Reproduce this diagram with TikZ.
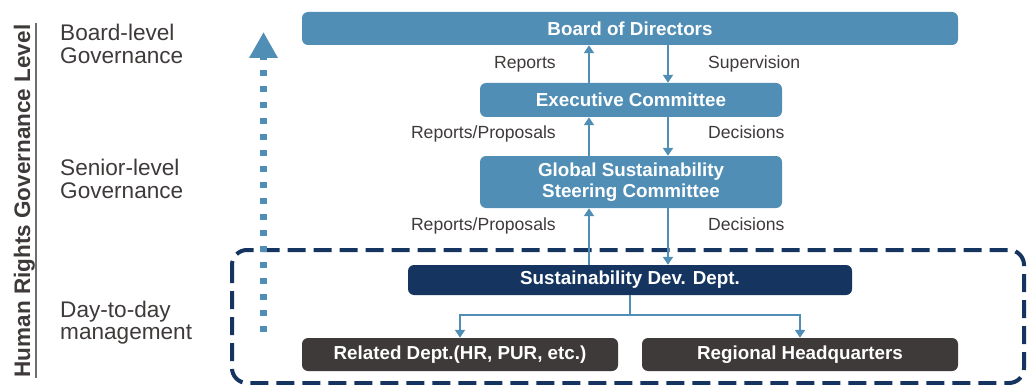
\documentclass[tikz,border=0pt]{standalone}
\usepackage{fontspec}
\setmainfont{Liberation Sans}
\usetikzlibrary{arrows.meta}
\definecolor{steel}{RGB}{80,142,181}
\definecolor{navy}{RGB}{21,53,96}
\definecolor{darkgray}{RGB}{62,58,57}
\definecolor{txtgray}{RGB}{62,58,57}
\definecolor{rulegray}{RGB}{110,110,110}
\tikzset{
  box/.style={rectangle, rounded corners=6pt, inner sep=0pt, text=white,
    font=\bfseries\fontsize{18.8}{21}\selectfont, align=center},
  bluebox/.style={box, fill=steel},
  navybox/.style={box, fill=navy},
  graybox/.style={box, fill=darkgray},
  flow/.style={draw=steel, line width=2.3pt, -{Triangle[width=10pt,length=8pt]}},
  plain/.style={draw=steel, line width=2.3pt},
  lbl/.style={text=txtgray, inner sep=0pt, font=\fontsize{17.6}{20}\selectfont},
  lvl/.style={text=txtgray, inner sep=0pt, anchor=base west, font=\fontsize{22.6}{23}\selectfont},
  frame/.style={draw=navy, line width=4pt, dash pattern=on 18pt off 8pt, rounded corners=15pt},
  dotarrow/.style={draw=steel, line width=7pt, dash pattern=on 6pt off 10pt,
    -{Triangle[width=27pt,length=26pt]}}
}
\begin{document}
\begin{tikzpicture}[x=1pt,y=-1pt]
\useasboundingbox (0,0) rectangle (1027,385);
% dashed frame
\draw[frame] (232,250) rectangle (1024,383);
% vertical title
\node[rotate=90, anchor=base, inner sep=0pt, text=txtgray,
  font=\bfseries\fontsize{22.5}{24}\selectfont] (title) at (30,201) {Human Rights Governance Level};
\coordinate (ruletop) at (36,23);
\coordinate (rulebot) at (36,378);
\draw[rulegray, line width=1.5pt] (ruletop) -- (rulebot);
% level labels
\node[lvl] (l1a) at (60,41) {Board-level};
\node[lvl] (l1b) at (60,64) {Governance};
\node[lvl] (l2a) at (60,175) {Senior-level};
\node[lvl] (l2b) at (60,198) {Governance};
\node[lvl] (l3a) at (60,317) {Day-to-day};
\node[lvl] (l3b) at (60,339) {management};
% dotted arrow
\coordinate (dotbot) at (263.5,332);
\coordinate (dottop) at (263.5,32);
\draw[dotarrow] (dotbot) -- (dottop);
% boxes
\node[bluebox, minimum width=656pt, minimum height=33pt] (board) at (630,28.5) {Board of Directors};
\node[bluebox, minimum width=302pt, minimum height=34pt] (exec) at (631,100) {Executive Committee};
\node[bluebox, minimum width=302pt, minimum height=52pt] (gssc) at (631,182) {Global Sustainability\\Steering Committee};
\node[navybox, minimum width=444pt, minimum height=30pt] (sust) at (630,280) {Sustainability Dev. Dept.};
\node[graybox, minimum width=316pt, minimum height=33pt] (rel) at (460,354.5) {Related Dept.(HR, PUR, etc.)};
\node[graybox, minimum width=316pt, minimum height=33pt] (reg) at (800,354.5) {Regional Headquarters};
% arrow columns
\coordinate (upx) at (589,0);
\coordinate (dnx) at (668,0);
\draw[flow] (exec.north -| upx) -- (board.south -| upx);
\draw[flow] (board.south -| dnx) -- (exec.north -| dnx);
\draw[flow] (gssc.north -| upx) -- (exec.south -| upx);
\draw[flow] (exec.south -| dnx) -- (gssc.north -| dnx);
\draw[flow] (sust.north -| upx) -- (gssc.south -| upx);
\draw[flow] (gssc.south -| dnx) -- (sust.north -| dnx);
% fan out
\coordinate (fork) at (630,315);
\draw[plain] (sust.south) -- (fork);
\draw[flow] (fork) -| (rel.north);
\draw[flow] (fork) -| (reg.north);
% labels
\node[lbl, anchor=base east] (t1) at (556,69) {Reports};
\node[lbl, anchor=base west] (t2) at (708,69) {Supervision};
\node[lbl, anchor=base east] (t3) at (556,139) {Reports/Proposals};
\node[lbl, anchor=base west] (t4) at (708,139) {Decisions};
\node[lbl, anchor=base east] (t5) at (556,230) {Reports/Proposals};
\node[lbl, anchor=base west] (t6) at (708,230) {Decisions};
\end{tikzpicture}
\end{document}
